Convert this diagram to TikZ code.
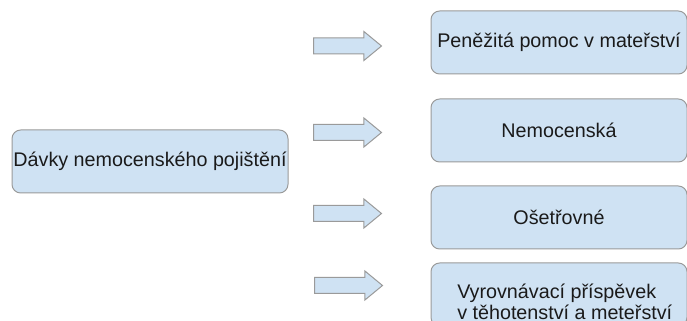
\documentclass[tikz,border=0pt]{standalone}
\usepackage{fontspec}
\setmainfont{Liberation Sans}
\usetikzlibrary{shapes.arrows}
\definecolor{boxfill}{HTML}{CFE2F3}
\definecolor{boxline}{HTML}{9A9A9A}
\definecolor{txt}{HTML}{1A1A1A}
\tikzset{
  box/.style={draw=boxline, fill=boxfill, line width=0.75pt, rounded corners=6.5pt,
    minimum width=192pt, minimum height=47.25pt, inner sep=0pt},
  lbox/.style={box, minimum width=207pt},
  lbl/.style={text=txt, font=\fontsize{14.8}{15.75}\selectfont, inner sep=0pt},
  barrow/.style={draw=boxline, fill=boxfill, line width=0.75pt, shape=single arrow,
    single arrow head extend=4.875pt, single arrow tip angle=79,
    minimum height=51pt, inner xsep=0pt, inner ysep=5.625pt, anchor=tail}
}
\begin{document}
\begin{tikzpicture}[x=0.75pt,y=-0.75pt]
\useasboundingbox (0,0) rectangle (687,321);
\clip (0,0) rectangle (687,321);
% left box
\node[lbox] (src) at (150,161.5) {};
\node[lbl] (srct) at (src.center) {Dávky nemocenského pojištění};
% right boxes
\node[box] (b1) at (559,42.5) {};
\node[lbl] (b1t) at (b1.center) {Peněžitá pomoc v mateřství};
\node[box] (b2) at (559,130.5) {};
\node[lbl] (b2t) at (b2.center) {Nemocenská};
\node[box] (b3) at (559,217.5) {};
\node[lbl] (b3t) at (b3.center) {Ošetřovné};
\node[box] (b4) at (559,294.5) {};
\node[lbl, align=left, anchor=base west] (b4t) at (457,320) {Vyrovnávací příspěvek\\v těhotenství a meteřství};
% block arrows
\node[barrow] (a1) at (313,46) {};
\node[barrow] (a2) at (313,132.5) {};
\node[barrow] (a3) at (313,213.5) {};
\node[barrow] (a4) at (314,285.5) {};
\end{tikzpicture}
\end{document}
